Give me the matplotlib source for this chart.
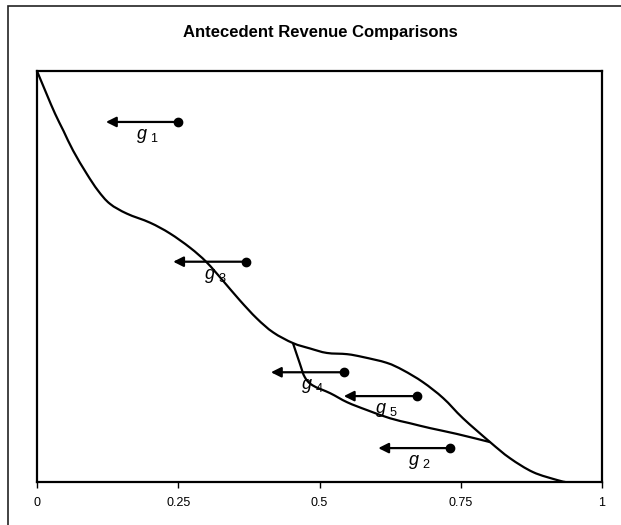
import matplotlib
matplotlib.use("Agg")
import matplotlib.pyplot as plt
from matplotlib.patches import Rectangle, PathPatch
from matplotlib.path import Path

plt.rcParams['font.family'] = ['Liberation Sans', 'DejaVu Sans']
plt.rcParams['mathtext.fontset'] = 'custom'
plt.rcParams['mathtext.it'] = 'Liberation Sans:italic'
plt.rcParams['mathtext.rm'] = 'Liberation Sans'

# upper (main) curve
main_x = [0.0, 0.017, 0.032, 0.047, 0.064, 0.088, 0.108, 0.129, 0.159, 0.200,
          0.235, 0.271, 0.300, 0.329, 0.359, 0.389, 0.418, 0.453, 0.483, 0.513,
          0.549, 0.577, 0.619, 0.648, 0.683, 0.719, 0.754, 0.802, 0.837, 0.878,
          0.920, 0.935]
main_y = [1.0, 0.944, 0.896, 0.854, 0.806, 0.750, 0.709, 0.677, 0.653, 0.631,
          0.605, 0.570, 0.535, 0.490, 0.442, 0.398, 0.364, 0.338, 0.325, 0.314,
          0.311, 0.304, 0.290, 0.272, 0.243, 0.204, 0.155, 0.097, 0.058, 0.024,
          0.005, 0.0]

# lower branch
low_x = [0.453, 0.465, 0.474, 0.488, 0.519, 0.549, 0.584, 0.625, 0.660, 0.696,
         0.743, 0.802]
low_y = [0.338, 0.289, 0.255, 0.235, 0.216, 0.194, 0.175, 0.155, 0.143, 0.131,
         0.117, 0.097]

# arrows g_i: start (dot), end (arrow tip), height
arrow_names = ['1', '3', '4', '5', '2']
arrow_start = [0.250, 0.370, 0.543, 0.673, 0.731]
arrow_end = [0.122, 0.241, 0.414, 0.543, 0.604]
arrow_y = [0.876, 0.536, 0.267, 0.209, 0.0825]

xticks = [0, 0.25, 0.5, 0.75, 1]
xlabels = ['0', '0.25', '0.5', '0.75', '1']


def smooth_path(xs, ys, t=1 / 6):
    # excel-like smoothed line: bezier segments through the points
    pts = list(zip(xs, ys))
    verts = [pts[0]]
    codes = [Path.MOVETO]
    n = len(pts)
    for i in range(n - 1):
        p0 = pts[max(i - 1, 0)]
        p1 = pts[i]
        p2 = pts[i + 1]
        p3 = pts[min(i + 2, n - 1)]
        c1 = (p1[0] + (p2[0] - p0[0]) * t, p1[1] + (p2[1] - p0[1]) * t)
        c2 = (p2[0] - (p3[0] - p1[0]) * t, p2[1] - (p3[1] - p1[1]) * t)
        verts += [c1, c2, p2]
        codes += [Path.CURVE4] * 3
    return Path(verts, codes)


fig = plt.figure(figsize=(6.21, 5.25), dpi=100)
fig.add_artist(Rectangle((8 / 621, -0.1), 2, 1.1 - 6 / 525, transform=fig.transFigure,
                         fill=False, ec='#222222', lw=1.2))
ax = fig.add_axes([37 / 621, 43 / 525, 565 / 621, 411 / 525])

for xs, ys in [(main_x, main_y), (low_x, low_y)]:
    ax.add_patch(PathPatch(smooth_path(xs, ys), fill=False, ec='black', lw=1.6))

for name, x0, x1, y in zip(arrow_names, arrow_start, arrow_end, arrow_y):
    ax.annotate('', xy=(x1, y), xytext=(x0, y),
                arrowprops=dict(arrowstyle='-|>,head_length=0.6,head_width=0.3',
                                color='black', lw=1.6, shrinkA=0, shrinkB=0))
    ax.plot([x0], [y], 'o', color='black', ms=6)
    ax.text((x0 + x1) / 2 + 0.01, y - 0.012, r'$g\,_{\,' + name + '}$', fontsize=13,
            ha='center', va='top')

ax.set_xlim(0, 1)
ax.set_ylim(0, 1)
ax.set_xticks(xticks)
ax.set_xticklabels(xlabels, fontsize=9)
ax.set_yticks([])
ax.tick_params(axis='x', direction='out', length=4, width=1, pad=7)
for s in ax.spines.values():
    s.set_linewidth(1.6)

fig.text(320 / 621, 1 - 33 / 525, 'Antecedent Revenue Comparisons', fontsize=12,
         fontweight='bold', ha='center', va='center')

fig.savefig('out.png', dpi=100)
